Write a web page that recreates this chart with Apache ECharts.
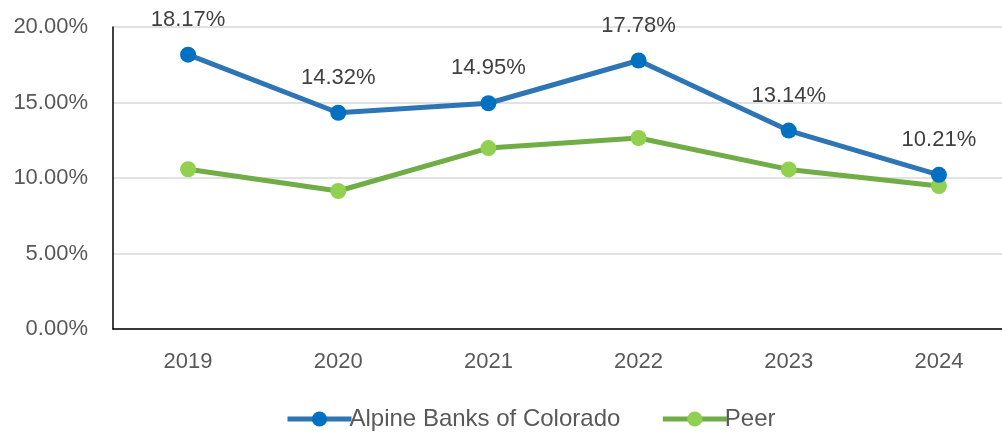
<!DOCTYPE html>
<html>
<head>
<meta charset="utf-8">
<script src="https://cdn.jsdelivr.net/npm/echarts@6/dist/echarts.min.js"></script>
<style>
  html, body { margin: 0; padding: 0; background: #fff; }
  #main { width: 1002px; height: 433px; }
</style>
</head>
<body>
<div id="main"></div>
<script>
  const years = ['2019', '2020', '2021', '2022', '2023', '2024'];
  const alpine = [18.17, 14.32, 14.95, 17.78, 13.14, 10.21];
  const peer = [10.58, 9.14, 11.98, 12.65, 10.57, 9.47];

  const chart = echarts.init(document.getElementById('main'));
  const font = 'Liberation Sans, Arial, sans-serif';

  chart.setOption({
    animation: false,
    textStyle: { fontFamily: font },
    grid: { left: 113, top: 27, width: 901, height: 302, outerBoundsMode: 'none', containLabel: false },
    legend: {
      bottom: -3,
      left: 280,
      itemWidth: 64,
      itemHeight: 19,
      itemGap: 40,
      textStyle: { fontSize: 24, color: '#595959', padding: [0, 0, 0, -7] },
      data: [
        { name: 'Alpine Banks of Colorado', lineStyle: { width: 5, color: '#2E75B6' } },
        { name: 'Peer', lineStyle: { width: 5, color: '#70AD47' } }
      ]
    },
    xAxis: {
      type: 'category',
      data: years,
      axisLine: { lineStyle: { color: '#000', width: 1.5 } },
      axisTick: { show: false },
      axisLabel: { fontSize: 22, color: '#595959', margin: 22 }
    },
    yAxis: {
      type: 'value',
      min: 0,
      max: 20,
      interval: 5,
      axisLine: { show: true, lineStyle: { color: '#000', width: 1.5 } },
      splitLine: { lineStyle: { color: '#d9d9d9', width: 1.5 } },
      axisLabel: {
        fontSize: 22, color: '#595959', margin: 25,
        formatter: v => v.toFixed(2) + '%'
      }
    },
    series: [
      {
        name: 'Alpine Banks of Colorado',
        type: 'line',
        data: alpine,
        symbol: 'circle',
        symbolSize: 16,
        lineStyle: { color: '#2E75B6', width: 5 },
        itemStyle: { color: '#0070C0' },
        label: {
          show: true,
          position: 'top',
          distance: 16,
          fontSize: 22,
          color: '#404040',
          formatter: p => p.value.toFixed(2) + '%'
        },
        z: 3
      },
      {
        name: 'Peer',
        type: 'line',
        data: peer,
        symbol: 'circle',
        symbolSize: 16,
        lineStyle: { color: '#70AD47', width: 5 },
        itemStyle: { color: '#92D050' },
        z: 2
      }
    ]
  });
</script>
</body>
</html>
